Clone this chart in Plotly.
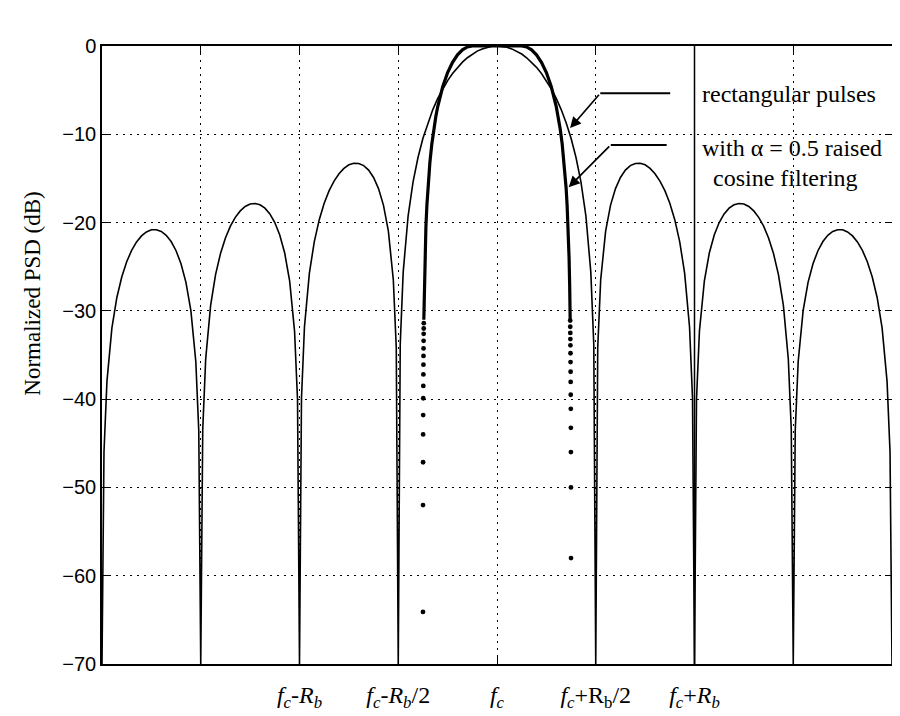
import plotly.graph_objects as go

# Frequency axis in units of Rb, measured from the carrier fc
rect_freq = [
    -2.0, -1.99, -1.975, -1.95, -1.925, -1.9, -1.875, -1.85, -1.825, -1.8, -1.775, -1.75,
    -1.725, -1.7, -1.675, -1.65, -1.625, -1.6, -1.575, -1.55, -1.525, -1.51, -1.5, -1.49,
    -1.475, -1.45, -1.425, -1.4, -1.375, -1.35, -1.325, -1.3, -1.275, -1.25, -1.225, -1.2,
    -1.175, -1.15, -1.125, -1.1, -1.075, -1.05, -1.025, -1.01, -1.0, -0.99, -0.975, -0.95,
    -0.925, -0.9, -0.875, -0.85, -0.825, -0.8, -0.775, -0.75, -0.725, -0.7, -0.675, -0.65,
    -0.625, -0.6, -0.575, -0.55, -0.525, -0.51, -0.5, -0.49, -0.475, -0.45, -0.425, -0.4,
    -0.375, -0.35, -0.325, -0.3, -0.275, -0.25, -0.225, -0.2, -0.175, -0.15, -0.125, -0.1,
    -0.075, -0.05, -0.025,
    0.0,
    0.025, 0.05, 0.075, 0.1, 0.125, 0.15, 0.175, 0.2, 0.225, 0.25, 0.275, 0.3,
    0.325, 0.35, 0.375, 0.4, 0.425, 0.45, 0.475, 0.49, 0.5, 0.51, 0.525, 0.55,
    0.575, 0.6, 0.625, 0.65, 0.675, 0.7, 0.725, 0.75, 0.775, 0.8, 0.825, 0.85,
    0.875, 0.9, 0.925, 0.95, 0.975, 0.99, 1.0, 1.01, 1.025, 1.05, 1.075, 1.1,
    1.125, 1.15, 1.175, 1.2, 1.225, 1.25, 1.275, 1.3, 1.325, 1.35, 1.375, 1.4,
    1.425, 1.45, 1.475, 1.49, 1.5, 1.51, 1.525, 1.55, 1.575, 1.6, 1.625, 1.65,
    1.675, 1.7, 1.725, 1.75, 1.775, 1.8, 1.825, 1.85, 1.875, 1.9, 1.925, 1.95,
    1.975, 1.99, 2.0,
]
# Normalized PSD (dB), rectangular pulses
rect_psd = [
    -70.0, -45.98, -37.99, -31.96, -28.51, -26.16, -24.43, -23.15, -22.19, -21.51, -21.06, -20.82,
    -20.81, -21.01, -21.45, -22.15, -23.19, -24.67, -26.77, -29.97, -35.74, -43.58, -70.0, -43.47,
    -35.45, -29.39, -25.90, -23.51, -21.74, -20.41, -19.41, -18.68, -18.18, -17.90, -17.84, -17.99,
    -18.37, -19.02, -20.00, -21.41, -23.45, -26.59, -32.29, -40.09, -70.0, -39.92, -31.85, -25.72,
    -22.15, -19.67, -17.81, -16.39, -15.30, -14.47, -13.86, -13.46, -13.28, -13.31, -13.55, -14.06,
    -14.89, -16.15, -18.02, -20.97, -26.48, -34.16, -70.0, -33.81, -25.61, -19.23, -15.39, -12.63,
    -10.45, -8.69, -7.20, -5.94, -4.86, -3.92, -3.12, -2.42, -1.83, -1.33, -0.91, -0.58,
    -0.33, -0.14, -0.03,
    0.0,
    -0.03, -0.14, -0.33, -0.58, -0.91, -1.33, -1.83, -2.42, -3.12, -3.92, -4.86, -5.94,
    -7.20, -8.69, -10.45, -12.63, -15.39, -19.23, -25.61, -33.81, -70.0, -34.16, -26.48, -20.97,
    -18.02, -16.15, -14.89, -14.06, -13.55, -13.31, -13.28, -13.46, -13.86, -14.47, -15.30, -16.39,
    -17.81, -19.67, -22.15, -25.72, -31.85, -39.92, -70.0, -40.09, -32.29, -26.59, -23.45, -21.41,
    -20.00, -19.02, -18.37, -17.99, -17.84, -17.90, -18.18, -18.68, -19.41, -20.41, -21.74, -23.51,
    -25.90, -29.39, -35.45, -43.47, -70.0, -43.58, -35.74, -29.97, -26.77, -24.67, -23.19, -22.15,
    -21.45, -21.01, -20.81, -20.82, -21.06, -21.51, -22.19, -23.15, -24.43, -26.16, -28.51, -31.96,
    -37.99, -45.98, -70.0,
]

# alpha = 0.5 raised cosine filtering, upper (solid-looking) part
rc_freq = [
    -0.3705, -0.368, -0.365, -0.36, -0.355, -0.35, -0.34, -0.33, -0.32, -0.31, -0.3, -0.275,
    -0.25, -0.225, -0.2, -0.175, -0.15, -0.125, 0.0, 0.125, 0.15, 0.175, 0.2, 0.225,
    0.25, 0.275, 0.3, 0.31, 0.32, 0.33, 0.34, 0.35, 0.355, 0.36, 0.365, 0.368, 0.3705,
]
rc_psd = [
    -31.0, -27.14, -24.04, -20.53, -18.04, -16.11, -13.23, -11.09, -9.40, -8.02, -6.86, -4.62,
    -3.01, -1.84, -1.00, -0.44, -0.11, 0.0, 0.0, 0.0, -0.11, -0.44, -1.00, -1.84,
    -3.01, -4.62, -6.86, -8.02, -9.40, -11.09, -13.23, -16.11, -18.04, -20.53, -24.04, -27.14, -31.0,
]

# separated sample dots near the band edges of the raised-cosine spectrum
rc_dot_freq_left = [-0.3707, -0.3710, -0.3713, -0.3716, -0.3719, -0.3722, -0.3725, -0.3728,
                    -0.3731, -0.3734, -0.3737, -0.3740, -0.3743, -0.3746, -0.3749]
rc_dot_psd_left = [-31.4, -32.0, -32.6, -33.4, -34.25, -35.1, -36.1, -37.2,
                   -38.5, -39.9, -41.8, -44.0, -47.15, -52.0, -64.1]
rc_dot_freq_right = [0.3706, 0.3709, 0.3712, 0.3715, 0.3718, 0.3721, 0.3724, 0.3727,
                     0.3730, 0.3733, 0.3736, 0.3739, 0.3742, 0.3745, 0.3748]
rc_dot_psd_right = [-31.1, -31.8, -32.5, -33.2, -33.9, -34.8, -35.8, -36.9,
                    -38.05, -39.5, -41.1, -43.25, -46.0, -50.0, -58.0]

x_tick_vals = [-1, -0.5, 0, 0.5, 1]
x_tick_text = [
    "<i>f</i><sub><i>c</i></sub>-<i>R</i><sub><i>b</i></sub>",
    "<i>f</i><sub><i>c</i></sub>-<i>R</i><sub><i>b</i></sub>/2",
    "<i>f</i><sub><i>c</i></sub>",
    "<i>f</i><sub><i>c</i></sub>+R<sub>b</sub>/2",
    "<i>f</i><sub><i>c</i></sub>+<i>R</i><sub><i>b</i></sub>",
]
x_minor_vals = [-1.5, 1.5]
y_tick_vals = [-70, -60, -50, -40, -30, -20, -10, 0]

fig = go.Figure()
fig.add_trace(go.Scatter(x=rect_freq, y=rect_psd, mode="lines",
                         line=dict(color="black", width=1.6), showlegend=False,
                         hoverinfo="skip"))
fig.add_trace(go.Scatter(x=rc_freq, y=rc_psd, mode="lines",
                         line=dict(color="black", width=3.2), showlegend=False,
                         hoverinfo="skip"))
fig.add_trace(go.Scatter(x=rc_dot_freq_left, y=rc_dot_psd_left, mode="markers",
                         marker=dict(color="black", size=4.8), showlegend=False,
                         hoverinfo="skip"))
fig.add_trace(go.Scatter(x=rc_dot_freq_right, y=rc_dot_psd_right, mode="markers",
                         marker=dict(color="black", size=4.8), showlegend=False,
                         hoverinfo="skip"))

axis_common = dict(
    showgrid=True, gridcolor="black", gridwidth=1, griddash="2px,5px",
    showline=True, linecolor="black", linewidth=1.5, mirror="ticks",
    ticks="inside", ticklen=7, tickcolor="black", tickwidth=1.2,
    zeroline=False,
)

fig.update_layout(
    width=900, height=716,
    margin=dict(l=94, r=16, t=38, b=58),
    paper_bgcolor="white", plot_bgcolor="white",
    xaxis=dict(range=[-2, 2], tickvals=x_tick_vals, ticktext=x_tick_text,
               tickfont=dict(family="Liberation Serif", size=24, color="black"),
               ticklabelstandoff=8,
               minor=dict(tickvals=x_minor_vals, showgrid=True, gridcolor="black",
                          gridwidth=1, griddash="2px,5px", ticks="inside", ticklen=7,
                          tickcolor="black", tickwidth=1.2),
               **axis_common),
    yaxis=dict(range=[-70, 0], tickvals=y_tick_vals,
               tickfont=dict(family="Liberation Sans", size=20, color="black"),
               **axis_common),
    shapes=[
        dict(type="line", xref="x", yref="y", x0=1, x1=1, y0=-70, y1=0,
             line=dict(color="black", width=1.5)),
        dict(type="line", xref="x", yref="y", x0=0.523, x1=0.877, y0=-5.35, y1=-5.35,
             line=dict(color="black", width=2)),
        dict(type="line", xref="x", yref="y", x0=0.576, x1=0.859, y0=-11.2, y1=-11.2,
             line=dict(color="black", width=2)),
    ],
    annotations=[
        dict(x=0.37, y=-9.3, ax=0.523, ay=-5.35, xref="x", yref="y", axref="x", ayref="y",
             text="", showarrow=True, arrowhead=2, arrowsize=1.3, arrowwidth=1.7,
             arrowcolor="black"),
        dict(x=0.363, y=-16.0, ax=0.576, ay=-11.2, xref="x", yref="y", axref="x", ayref="y",
             text="", showarrow=True, arrowhead=2, arrowsize=1.3, arrowwidth=1.7,
             arrowcolor="black"),
        dict(x=1.03, y=-5.4, xref="x", yref="y", text="rectangular pulses", showarrow=False,
             xanchor="left", yanchor="middle",
             font=dict(family="Liberation Serif", size=24, color="black")),
        dict(x=1.03, y=-11.6, xref="x", yref="y", text="with α = 0.5 raised", showarrow=False,
             xanchor="left", yanchor="middle",
             font=dict(family="Liberation Serif", size=24, color="black")),
        dict(x=1.084, y=-15.0, xref="x", yref="y", text="cosine filtering", showarrow=False,
             xanchor="left", yanchor="middle",
             font=dict(family="Liberation Serif", size=24, color="black")),
        dict(x=-0.088, y=0.60, xref="paper", yref="paper", text="Normalized PSD (dB)",
             textangle=-90, showarrow=False, xanchor="center", yanchor="middle",
             font=dict(family="Liberation Serif", size=23, color="black")),
    ],
)

fig.write_html("out.html")
